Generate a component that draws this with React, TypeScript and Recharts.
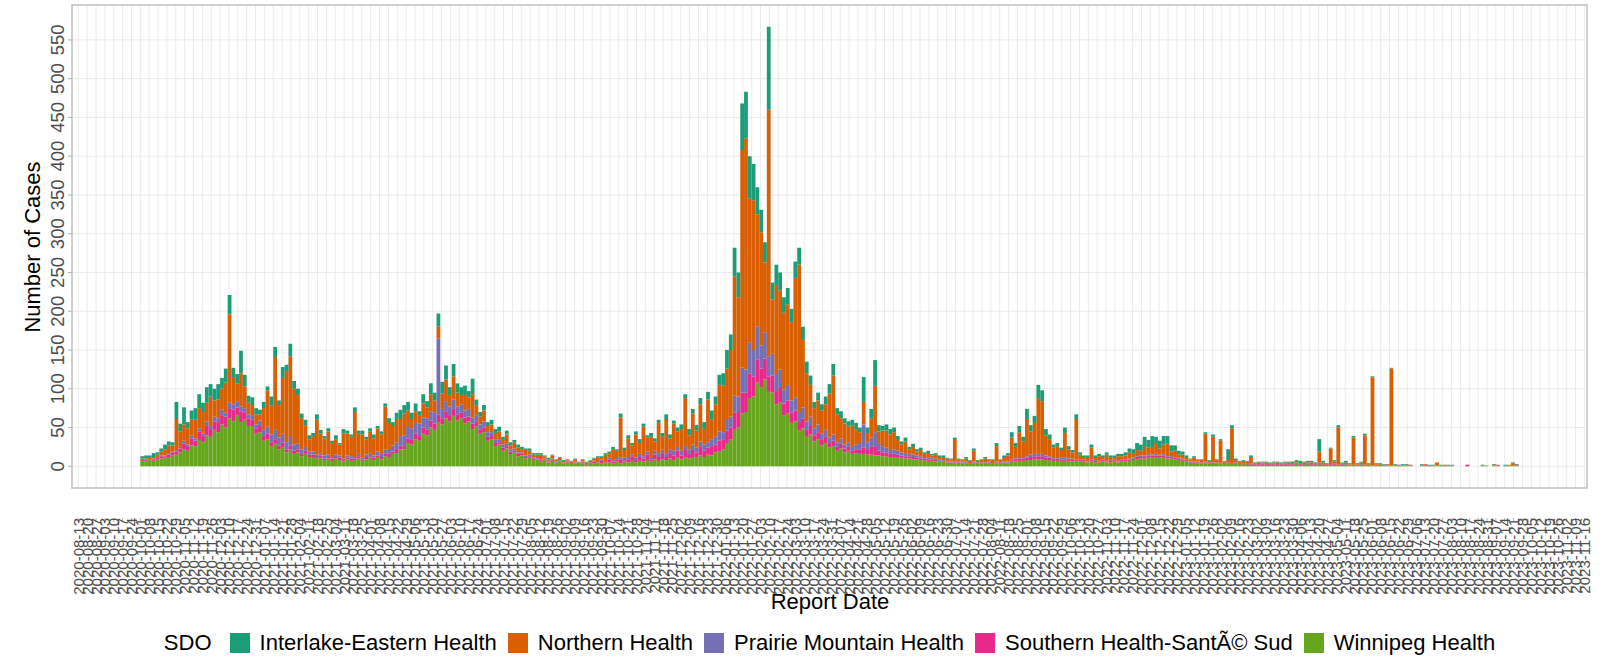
import React from 'react';
import { BarChart, Bar, XAxis, YAxis, CartesianGrid, ReferenceArea } from 'recharts';

const FONT = '"Liberation Sans", Arial, Helvetica, sans-serif';

// panel spans 1197 days from 2020-08-08; cases are grouped in 3-day bins
const panelStart = Date.UTC(2020, 7, 8);
const binDays = 3;
const binCount = 399;
const firstDataBin = 18;

const sdoKeys = ['ie', 'nh', 'pm', 'sh', 'wh'];
const sdoNames = [
  'Interlake-Eastern Health',
  'Northern Health',
  'Prairie Mountain Health',
  'Southern Health-SantÃ© Sud',
  'Winnipeg Health',
];
const sdoColors = ['#1B9E77', '#D95F02', '#7570B3', '#E7298A', '#66A61E'];

const winnipeg = [
  7, 6, 8, 7, 9, 10, 11, 12, 14, 15,
  18, 22, 20, 27, 26, 34, 31, 40, 38, 47, 44, 54, 50, 62, 58, 66, 57, 60, 52,
  52, 42, 44, 33, 35, 26, 29, 22, 25, 18, 22, 16, 18, 13, 16, 12,
  12, 10, 11, 8, 10, 7, 10, 8, 6, 9, 7, 8, 10, 7, 9, 11, 8, 12, 9, 13, 12, 16, 17, 22, 22, 30,
  28, 35, 33, 42, 40, 50, 47, 57, 54, 62, 58, 65, 59, 62, 55, 58, 48, 51, 42, 44, 33, 35,
  26, 28, 20, 23, 16, 18, 13, 14, 10, 11, 8, 9, 6, 8, 5, 7, 4, 6, 4, 5, 3, 4, 3, 4, 2,
  3, 4, 3, 4, 3, 5, 4, 6, 4, 6, 5, 7, 5, 7, 6, 8, 6, 9, 7, 9, 8, 10, 8, 11, 9, 11, 10, 12, 11, 14, 12, 15, 14, 18, 19,
  22, 30, 35, 47, 50, 68, 70, 88, 90, 108, 102, 112, 96, 95, 80, 82, 66, 68, 56, 58, 46, 49, 38, 41, 32, 35, 27, 30, 24, 26, 20, 23, 18, 20, 16,
  17, 16, 16, 15, 15, 14, 14, 13, 13, 12, 12, 11, 11, 10, 10, 9, 9, 8, 8, 7, 7, 6, 6, 6, 5,
  5, 4, 5, 4, 4, 3, 4, 3, 4, 3, 4, 3, 4, 3, 4, 4,
  6, 6, 7, 7, 8, 8, 9, 9, 9, 8, 8, 7, 7, 7, 7, 6, 6, 6, 6,
  6, 5, 6, 5, 5, 6, 5, 5, 6, 5, 6, 6, 7,
  8, 9, 10, 10, 11, 12, 11, 12, 11, 10, 10, 9, 8, 7,
  6, 5, 5, 4, 4, 4, 4, 3, 4, 3, 3, 3, 3, 3, 3, 2, 3, 2, 2, 2, 2, 2, 2, 2, 2, 2, 2, 2,
  2, 3, 2, 2, 3, 2, 2, 3, 2, 2, 2, 2, 2, 2, 2, 1, 2, 1, 2, 1, 2, 1, 1, 2, 1, 1, 1, 1, 1, 1,
  1, 1, 0, 0, 1, 1, 0, 1, 1, 1, 0, 1, 1, 0, 0, 0, 0, 0, 0, 0, 1, 1, 0, 1, 1, 0, 1, 1, 1, 1,
];

const southern = [
  1, 2, 1, 2, 2, 3, 2, 3, 4, 4,
  5, 7, 6, 9, 7, 11, 8, 12, 10, 11, 13, 12, 14, 12, 15, 10, 14, 9, 10,
  8, 7, 8, 6, 7, 5, 6, 5, 6, 4, 5, 4, 4, 3, 4, 3,
  3, 2, 3, 2, 2, 3, 2, 3, 2, 2, 3, 2, 3, 2, 3, 2, 3, 2, 3, 3, 4, 3, 4, 5, 4, 6,
  6, 7, 6, 8, 7, 9, 8, 10, 8, 9, 8, 9, 8, 7, 8, 6, 7, 6, 5, 6, 5, 4,
  4, 3, 4, 3, 3, 2, 3, 2, 2, 2, 2, 1, 2, 1, 1, 2, 1, 1, 1, 1, 1, 1, 1, 1, 1,
  1, 2, 1, 3, 1, 4, 2, 3, 5, 2, 4, 6, 3, 5, 4, 7, 3, 6, 5, 8, 4, 7, 6, 9, 5, 10, 6, 9, 7, 11, 8, 9, 12, 10, 14,
  12, 16, 15, 22, 20, 27, 25, 32, 26, 30, 24, 27, 20, 22, 17, 19, 15, 17, 13, 14, 11, 13, 9, 11, 8, 9, 7, 8, 6, 7, 5, 6, 5, 5, 4,
  5, 6, 8, 6, 10, 12, 6, 5, 5, 4, 4, 4, 3, 3, 3, 3, 2, 2, 2, 2, 2, 2, 1, 1, 1,
  1, 1, 1, 1, 1, 1, 1, 1, 1, 1, 1, 1, 1, 1, 1, 1,
  2, 2, 3, 3, 3, 4, 4, 4, 4, 3, 3, 3, 3, 2, 2, 2, 2, 2, 2,
  2, 1, 2, 2, 1, 2, 1, 2, 2, 1, 2, 2, 2,
  2, 3, 2, 3, 3, 2, 3, 2, 3, 2, 2, 2, 2, 2,
  2, 1, 1, 1, 1, 1, 1, 1, 1, 1, 1, 1, 1, 1, 1, 1, 1, 1, 1, 1, 1, 1, 1, 1, 1, 1, 1, 1,
  1, 1, 1, 1, 0, 1, 1, 1, 1, 0, 1, 1, 0, 1, 0, 1, 0, 1, 0, 1, 0, 0, 1, 0, 0, 1, 0, 0, 1, 0,
  0, 1, 0, 0, 0, 1, 1, 0, 0, 0, 1, 0, 0, 0, 0, 0, 2, 0, 0, 0, 0, 0, 0, 0, 1, 0, 0, 0, 0, 1,
];

const prairie = [
  0, 1, 0, 1, 1, 1, 1, 2, 1, 2,
  2, 4, 2, 4, 3, 4, 3, 6, 4, 6, 5, 7, 5, 8, 7, 8, 6, 6, 5,
  6, 5, 7, 8, 9, 10, 12, 10, 11, 9, 12, 8, 7, 6, 5, 4,
  4, 3, 3, 4, 3, 2, 3, 3, 2, 3, 3, 2, 3, 2, 3, 4, 3, 5, 4, 6, 5, 8, 10, 12, 14, 16,
  15, 14, 16, 13, 15, 12, 14, 98, 12, 13, 11, 12, 10, 11, 9, 10, 8, 9, 7, 8, 6, 5,
  5, 4, 4, 3, 3, 3, 2, 2, 2, 2, 1, 2, 1, 1, 1, 1, 1, 1, 0, 1, 0, 1, 0, 1, 0,
  1, 1, 1, 2, 1, 2, 2, 3, 2, 3, 3, 2, 3, 4, 3, 4, 3, 5, 4, 5, 4, 5, 6, 5, 6, 5, 6, 7, 6, 7, 8, 7, 9, 10, 12,
  10, 15, 14, 22, 20, 32, 30, 40, 34, 42, 30, 34, 26, 28, 22, 24, 18, 20, 16, 17, 13, 14, 11, 12, 9, 10, 8, 9, 7, 8, 6, 7, 5, 6, 5,
  6, 8, 30, 10, 12, 18, 10, 8, 6, 5, 6, 5, 4, 4, 3, 3, 3, 3, 2, 2, 2, 2, 2, 1, 1,
  1, 1, 0, 1, 1, 0, 1, 1, 0, 1, 1, 0, 1, 1, 1, 1,
  1, 2, 2, 2, 2, 3, 3, 3, 3, 3, 2, 2, 2, 2, 2, 2, 2, 1, 1,
  1, 1, 1, 1, 1, 1, 1, 1, 1, 1, 1, 1, 1,
  1, 1, 2, 1, 2, 1, 2, 1, 2, 1, 1, 1, 1, 1,
  1, 1, 1, 1, 0, 1, 0, 1, 0, 1, 0, 1, 0, 1, 0, 1, 0, 1, 0, 0, 1, 0, 0, 1, 0, 0, 1, 0,
  0, 1, 0, 0, 1, 0, 0, 1, 0, 0, 0, 1, 0, 0, 1, 0, 0, 0, 1, 0, 0, 0, 0, 0, 1, 0, 0, 0, 0, 0,
  0, 0, 0, 0, 1, 0, 0, 0, 0, 0, 0, 0, 1, 0, 0, 0, 0, 0, 0, 0, 0, 0, 0, 0, 0, 0, 0, 0, 0, 0,
];

const northern = [
  2, 1, 3, 2, 3, 5, 8, 10, 8, 40,
  20, 21, 21, 20, 24, 26, 28, 24, 38, 21, 24, 27, 39, 114, 34, 23, 43, 28, 15,
  13, 13, 8, 28, 47, 37, 94, 42, 72, 92, 103, 72, 63, 40, 28, 16,
  20, 45, 25, 22, 30, 18, 20, 14, 32, 28, 25, 58, 26, 30, 20, 28, 22, 30, 25, 55, 35, 25, 30, 22, 28, 20,
  12, 15, 10, 18, 14, 22, 16, 15, 20, 28, 15, 30, 18, 12, 20, 15, 30, 12, 10, 14, 8, 10,
  8, 10, 6, 12, 5, 8, 6, 4, 7, 5, 4, 3, 6, 3, 2, 4, 2, 3, 2, 1, 2, 3, 1, 2, 2,
  2, 3, 6, 3, 10, 6, 14, 8, 52, 10, 24, 12, 30, 14, 38, 18, 26, 12, 40, 16, 45, 14, 35, 20, 28, 62, 18, 40, 22, 48, 20, 55, 25, 42, 60,
  60, 65, 86, 154, 128, 281, 298, 185, 193, 145, 146, 90, 318, 70, 115, 102, 99, 104, 101, 154, 190, 87, 62, 41, 26, 31, 30, 33, 57, 76, 36, 26, 27, 20, 28,
  20, 14, 29, 12, 25, 60, 15, 20, 22, 20, 22, 14, 10, 15, 6, 10, 5, 8, 4, 6, 3, 5, 3, 4, 3,
  2, 28, 3, 2, 4, 3, 14, 2, 3, 5, 2, 4, 20, 3, 6, 8,
  28, 15, 32, 20, 48, 30, 40, 72, 68, 26, 22, 12, 14, 10, 32, 12, 8, 52, 6,
  3, 5, 15, 4, 6, 3, 8, 4, 3, 6, 4, 5, 8,
  5, 8, 6, 12, 8, 10, 14, 8, 12, 16, 6, 8, 4, 5,
  3, 2, 4, 2, 3, 36, 2, 33, 3, 28, 2, 3, 45, 3, 2, 3, 2, 8, 1, 2, 1, 2, 1, 1, 2, 1, 1, 2,
  1, 2, 1, 2, 1, 2, 1, 14, 2, 1, 20, 2, 48, 1, 2, 1, 35, 1, 2, 38, 1, 114, 1, 1, 0, 1, 125, 1, 0, 1,
  1, 0, 0, 0, 0, 1, 0, 0, 4, 0, 1, 0, 0, 0, 0, 0, 0, 0, 0, 0, 0, 0, 0, 1, 0, 0, 0, 1, 3, 0,
];

const interlake = [
  3, 4, 2, 5, 3, 4, 6, 5, 4, 22,
  10, 22, 8, 12, 15, 18, 12, 20, 16, 15, 20, 14, 18, 25, 13, 12, 29, 15, 9,
  10, 8, 6, 8, 5, 12, 13, 6, 14, 8, 16, 10, 8, 6, 7, 5,
  4, 7, 5, 3, 4, 3, 5, 2, 6, 4, 3, 6, 4, 5, 3, 4, 5, 3, 4, 4, 6, 5, 8, 12, 11, 11,
  8, 10, 6, 12, 8, 14, 10, 17, 15, 18, 10, 16, 12, 10, 12, 8, 20, 8, 6, 7, 5, 6,
  5, 6, 4, 5, 4, 3, 4, 3, 2, 3, 2, 2, 2, 1, 2, 1, 1, 1, 1, 1, 1, 1, 1, 1, 1,
  1, 1, 2, 1, 2, 2, 3, 2, 5, 3, 4, 3, 4, 5, 4, 3, 5, 4, 4, 5, 6, 5, 4, 5, 6, 5, 8, 6, 7, 8, 9, 10, 12, 10, 13,
  16, 24, 20, 37, 32, 60, 60, 55, 47, 35, 29, 26, 107, 22, 26, 23, 20, 21, 17, 21, 22, 17, 15, 12, 8, 10, 8, 10, 12, 15, 8, 9, 7, 7, 7,
  8, 6, 32, 7, 12, 33, 8, 6, 8, 7, 6, 5, 4, 5, 3, 4, 3, 3, 2, 3, 2, 2, 2, 2, 1,
  1, 3, 1, 1, 2, 1, 3, 1, 1, 2, 1, 1, 4, 1, 2, 3,
  7, 5, 8, 6, 13, 8, 9, 17, 14, 8, 6, 4, 4, 3, 7, 4, 3, 6, 3,
  2, 2, 4, 2, 3, 2, 3, 2, 2, 3, 3, 4, 5,
  6, 9, 8, 12, 10, 14, 8, 10, 11, 10, 8, 7, 5, 4,
  2, 1, 2, 1, 1, 2, 1, 3, 1, 2, 1, 14, 4, 2, 1, 1, 1, 2, 1, 1, 1, 1, 1, 1, 1, 1, 1, 1,
  2, 1, 3, 1, 2, 2, 1, 16, 2, 1, 1, 2, 3, 1, 2, 1, 2, 1, 1, 2, 1, 1, 1, 1, 1, 0, 1, 1, 0, 1,
  1, 0, 0, 0, 1, 0, 1, 1, 0, 1, 0, 1, 0, 0, 0, 0, 0, 0, 0, 0, 1, 0, 0, 1, 0, 0, 1, 0, 1, 1,
];

const yTicks = [0, 50, 100, 150, 200, 250, 300, 350, 400, 450, 500, 550];

const seriesValues = [interlake, northern, prairie, southern, winnipeg];

const dayMs = 86400000;
const fmtDate = (d: number) => new Date(panelStart + d * dayMs).toISOString().slice(0, 10);

// weekly breaks, first one on 2020-08-13
const dateTicks: number[] = [];
for (let d = 5; d <= binCount * binDays; d += 7) dateTicks.push(d);

const rows = Array.from({ length: binCount }, (_, b) => {
  const row: Record<string, number> = { bin: b, day: b * binDays + 1 };
  const i = b - firstDataBin;
  seriesValues.forEach((vals, k) => {
    if (i >= 0 && i < vals.length) row[sdoKeys[k]] = vals[i];
  });
  return row;
});

const DateTick = (props: any) => {
  const { x, y, payload } = props;
  const tx = x + 5.5;
  const ty = y - 6;
  return (
    <text x={tx} y={ty} transform={`rotate(-90 ${tx} ${ty})`} textAnchor="end"
      fontSize={15} fill="#4D4D4D" fontFamily={FONT}>
      {fmtDate(payload.value)}
    </text>
  );
};

const CaseTick = (props: any) => {
  const { x, y, payload } = props;
  const tx = x - 2;
  return (
    <text x={tx} y={y} transform={`rotate(-90 ${tx} ${y})`} textAnchor="middle"
      fontSize={18.5} fill="#4D4D4D" fontFamily={FONT}>
      {payload.value}
    </text>
  );
};

const YTitle = () => (
  <text x={40} y={247} transform="rotate(-90 40 247)" textAnchor="middle"
    fontSize={22} fill="#000" fontFamily={FONT}>
    Number of Cases
  </text>
);

const XTitle = () => (
  <text x={830} y={609} textAnchor="middle" fontSize={22} fill="#000" fontFamily={FONT}>
    Report Date
  </text>
);

// stacked bottom-up, so Winnipeg first and Interlake-Eastern on top
const stackOrder = [4, 3, 2, 1, 0];

export default function App() {
  return (
    <div style={{ position: 'absolute', left: 0, top: 0, width: 1607, height: 661, background: '#fff', fontFamily: FONT }}>
      <BarChart
        width={1607}
        height={661}
        data={rows}
        margin={{ top: 5, right: 20, bottom: 73, left: 12 }}
        barCategoryGap={0}
        barGap={0}
      >
        <CartesianGrid xAxisId="dates" stroke="#EBEBEB" strokeWidth={1} />
        <XAxis xAxisId="bins" dataKey="bin" type="category" hide />
        <XAxis
          xAxisId="dates"
          dataKey="day"
          type="number"
          scale="linear"
          domain={[0, binCount * binDays]}
          allowDataOverflow
          ticks={dateTicks}
          interval={0}
          height={100}
          axisLine={false}
          tickSize={4}
          tickLine={{ stroke: '#B3B3B3' }}
          tick={<DateTick />}
          label={<XTitle />}
        />
        <YAxis
          domain={[-28, 595]}
          allowDataOverflow
          ticks={yTicks}
          width={60}
          axisLine={false}
          tickSize={4}
          tickLine={{ stroke: '#B3B3B3' }}
          tick={<CaseTick />}
          label={<YTitle />}
        />
        {stackOrder.map((k) => (
          <Bar
            key={sdoKeys[k]}
            xAxisId="bins"
            dataKey={sdoKeys[k]}
            name={sdoNames[k]}
            stackId="cases"
            fill={sdoColors[k]}
            barSize={3.79}
            isAnimationActive={false}
          />
        ))}
        <ReferenceArea
          xAxisId="dates"
          x1={0}
          x2={binCount * binDays}
          y1={-28}
          y2={595}
          fill="none"
          stroke="#C2C2C2"
          strokeWidth={1.5}
          ifOverflow="visible"
        />
      </BarChart>
      <div
        style={{
          position: 'absolute', left: 72, top: 632, width: 1515, height: 22,
          display: 'flex', justifyContent: 'center', alignItems: 'center',
          fontSize: 22, lineHeight: '22px', color: '#000', whiteSpace: 'nowrap',
        }}
      >
        <span style={{ marginRight: 18 }}>SDO</span>
        {sdoNames.map((n, k) => (
          <span key={n} style={{ display: 'flex', alignItems: 'center', marginRight: k < 4 ? 11 : 0 }}>
            <span style={{ width: 20, height: 20, background: sdoColors[k], marginRight: 10, display: 'inline-block' }} />
            <span>{n}</span>
          </span>
        ))}
      </div>
    </div>
  );
}
